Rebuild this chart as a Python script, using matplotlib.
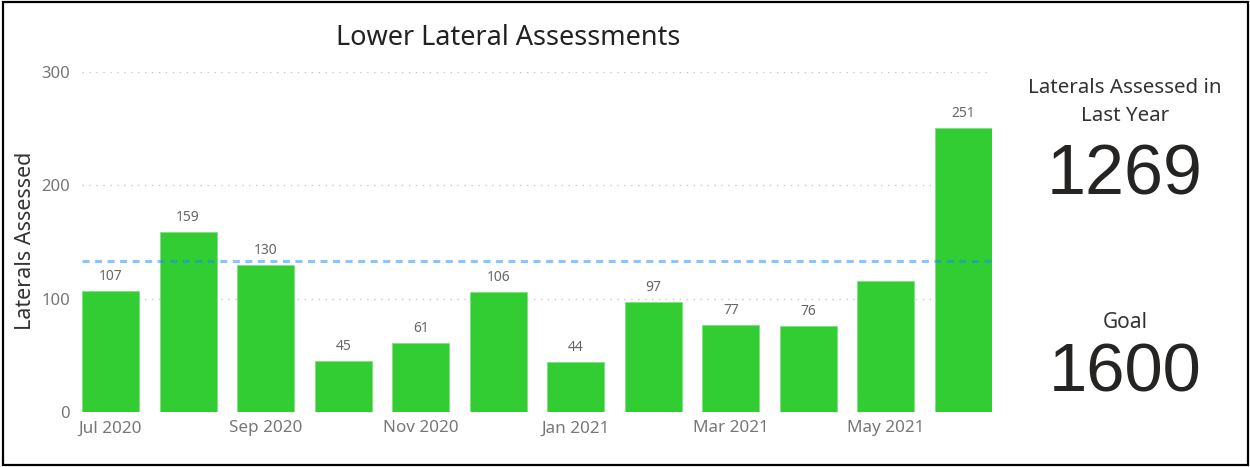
import matplotlib
matplotlib.use("Agg")
import matplotlib.pyplot as plt
from matplotlib.patches import Rectangle

# data
months = ["Jul 2020", "Aug 2020", "Sep 2020", "Oct 2020", "Nov 2020", "Dec 2020",
          "Jan 2021", "Feb 2021", "Mar 2021", "Apr 2021", "May 2021", "Jun 2021"]
assessed = [107, 159, 130, 45, 61, 106, 44, 97, 77, 76, 116, 251]
show_label = [True, True, True, True, True, True, True, True, True, True, False, True]
total_last_year = 1269
goal = 1600
monthly_goal = goal / 12

plt.rcParams['font.family'] = ['Noto Sans', 'DejaVu Sans']

fig = plt.figure(figsize=(12.5, 4.67), dpi=100)
ax = fig.add_axes([0.0656, 0.1178, 0.728, 0.728])

x = list(range(len(months)))
bar_w = 0.735
ax.bar(x, assessed, width=bar_w, color='#32CD32', edgecolor='#7FE07F',
       linewidth=0.6, zorder=2)

for i, v in enumerate(assessed):
    if show_label[i]:
        ax.text(i, v + 6, str(v), ha='center', va='bottom', fontsize=10,
                color='#666666', clip_on=False)

ax.axhline(monthly_goal, color='#118DFF', alpha=0.5, linewidth=2.2,
           linestyle=(0, (2.3, 1.8)), zorder=3)

ax.set_xlim(-bar_w / 2, len(months) - 1 + bar_w / 2)
ax.set_ylim(0, 300)
ax.set_yticks([0, 100, 200, 300])
ax.yaxis.grid(True, linestyle=(0, (1, 4)), color='#C8C8C8', linewidth=1, zorder=0)
ax.set_axisbelow(True)

ax.set_xticks(x[::2])
ax.set_xticklabels(months[::2])
ax.tick_params(axis='y', length=0, labelsize=12, colors='#777777', pad=8.5)
ax.tick_params(axis='x', length=0, labelsize=12.3, colors='#777777', pad=6)
for s in ax.spines.values():
    s.set_visible(False)

ax.set_ylabel("Laterals Assessed", fontsize=15.5, color='#333333')
ax.yaxis.set_label_coords(-0.050, 0.503)
fig.text(0.4065, 0.918, "Lower Lateral Assessments", ha='center', va='center',
         fontsize=19.5, color='#222222')

# cards on the right
fig.text(0.9, 0.781, "Laterals Assessed in\nLast Year", ha='center', va='center',
         fontsize=14.8, color='#333333', linespacing=1.55)
fig.text(0.9, 0.623, str(total_last_year), ha='center', va='center',
         fontsize=50.5, color='#252423', family='Liberation Sans')
fig.text(0.9, 0.31, "Goal", ha='center', va='center',
         fontsize=15, color='#333333')
fig.text(0.9, 0.2, str(goal), ha='center', va='center',
         fontsize=49.5, color='#252423', family='Liberation Sans')

fig.patches.append(Rectangle((0.002, 0.004), 0.996, 0.992, transform=fig.transFigure,
                             fill=False, edgecolor='black', linewidth=1.6))

fig.savefig("out.png", dpi=100)
